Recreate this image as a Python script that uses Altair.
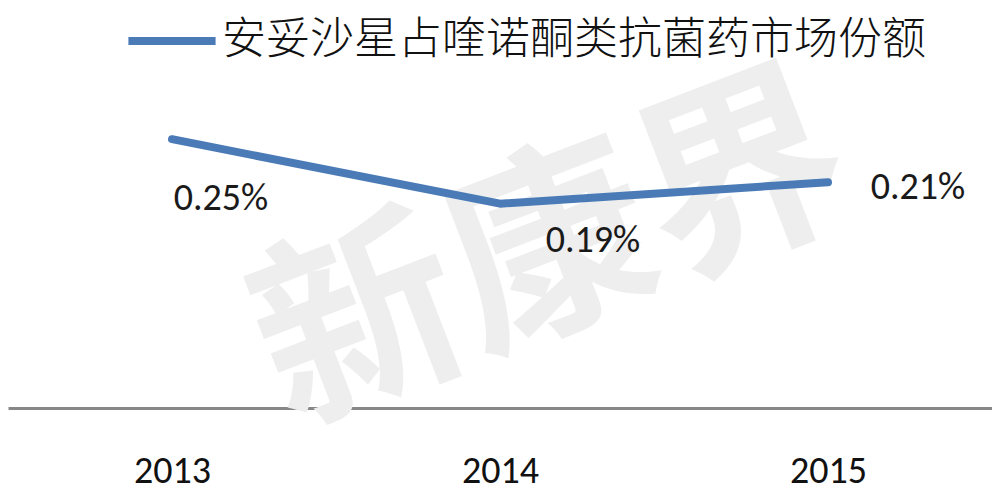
import altair as alt
import pandas as pd

years = ["2013", "2014", "2015"]
shares = [0.25, 0.19, 0.21]
labels = ["0.25%", "0.19%", "0.21%"]
series_name = "安妥沙星占喹诺酮类抗菌药市场份额"

df = pd.DataFrame({"year": years, "share": shares, "label": labels, "series": [series_name] * 3})

LINE = "#4a7bb7"
FONT = "Carlito, Liberation Sans, sans-serif"

x = alt.X("year:N", sort=years, title=None,
          scale=alt.Scale(type="point", padding=0.5),
          axis=alt.Axis(labelAngle=0, labelFontSize=38, labelFont=FONT, labelColor="#111111",
                        labelPadding=44, ticks=False, domainColor="#878787", domainWidth=3,
                        grid=False))
y = alt.Y("share:Q", title=None, axis=None, scale=alt.Scale(domain=[0, 0.372], nice=False, zero=True))

base = alt.Chart(df)

watermark = base.transform_filter(alt.datum.year == "2014").mark_text(
    text="新康界", fontSize=205, font="Noto Sans CJK SC", fontWeight="bold",
    color="#eeeeee", angle=339, align="center", baseline="middle"
).encode(x=alt.value(545), y=alt.value(248))

line = base.mark_line(strokeWidth=8, strokeCap="round", strokeJoin="round").encode(
    x=x, y=y,
    color=alt.Color("series:N", scale=alt.Scale(range=[LINE]),
                    legend=alt.Legend(title=None, orient="none", legendX=116, legendY=-15,
                                      symbolType="stroke", symbolSize=7600, symbolStrokeWidth=8,
                                      labelFontSize=44, labelFont="Noto Sans CJK SC",
                                      labelFontWeight=300,
                                      labelColor="#111111", labelLimit=1200, labelOffset=2,
                                      padding=0)))

offsets = {"2013": (49, 60), "2014": (93, 37), "2015": (90, 6)}
texts = []
for yr in years:
    dx, dy = offsets[yr]
    texts.append(base.transform_filter(alt.datum.year == yr).mark_text(
        fontSize=38, font=FONT, color="#1a1a1a", align="center", baseline="middle", dx=dx, dy=dy
    ).encode(x=x, y=y, text="label:N"))

chart = alt.layer(watermark, line, *texts).properties(
    width=984, height=400,
    autosize=alt.AutoSizeParams(type="none"),
    padding={"left": 0, "top": 0, "right": 0, "bottom": 90},
).configure(background="white").configure_view(stroke=None, strokeWidth=0)

chart.save("out.html", embed_options={"renderer": "svg", "actions": False})
